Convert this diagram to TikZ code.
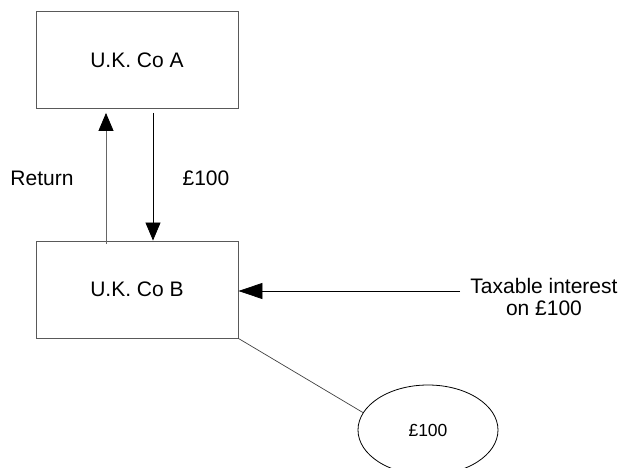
\documentclass[tikz,border=0pt]{standalone}
\usepackage{fontspec}
\setmainfont{Liberation Sans}
\usetikzlibrary{shapes,arrows.meta,positioning,calc}

\tikzset{
    company/.style={draw=black!65, line width=0.9pt, minimum width=202pt, minimum height=97pt},
    flow/.style={line width=0.8pt, -{Triangle[length=18pt,width=15pt,color=black]}},
}

\begin{document}
\begin{tikzpicture}[x=1pt,y=-1pt,font=\fontsize{21}{22}\selectfont]
    \useasboundingbox (0,0) rectangle (625,468);

    % Companies
    \node[company] (coA) at (137,60) {U.K. Co A};
    \node[company] (coB) at (137,289.5) {U.K. Co B};

    % Return and payment between A and B
    \coordinate (retS) at ($(coB.north)+(-31pt,-3pt)$);
    \coordinate (retE) at ($(coA.south)+(-31pt,-4pt)$);
    \draw[flow, black!60] (retS) -- (retE);
    \node (ret) at (42,178) {Return};

    \coordinate (payS) at ($(coA.south)+(16pt,-4pt)$);
    \draw[flow] (payS) -- (payS |- coB.north);
    \node (pay) at (206,178) {£100};

    % Interest into B
    \node[align=center, inner sep=0pt] (tax) at (544,297) {Taxable interest\\on £100};
    \coordinate (taxS) at (460,291);
    \draw[line width=0.8pt, -{Triangle[length=24pt,width=16pt]}] (taxS) -- (taxS -| coB.east);

    % Deposit
    \node[ellipse, draw, line width=0.8pt, minimum width=140pt, minimum height=90pt,
          font=\fontsize{17.5}{18}\selectfont] (money) at (428,430) {£100};
    \draw[black!75, line width=0.7pt] (coB.south east) -- (money.165);
\end{tikzpicture}
\end{document}
